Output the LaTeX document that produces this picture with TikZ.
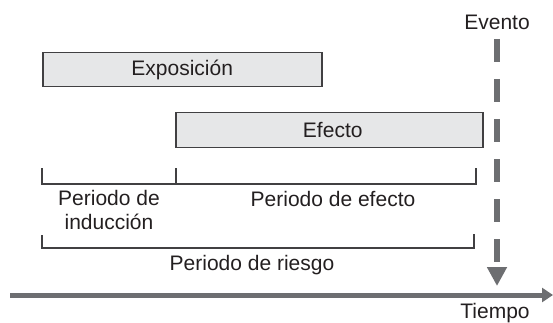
\documentclass[tikz,border=0pt]{standalone}
\usepackage{fontspec}
\setmainfont{Liberation Sans}
\usetikzlibrary{arrows.meta}
\definecolor{boxfill}{HTML}{E6E7E8}
\definecolor{boxline}{HTML}{414042}
\definecolor{txt}{HTML}{231F20}
\definecolor{axisgray}{HTML}{6D6E71}
\tikzset{
  bar/.style={draw=boxline, line width=1.5pt, fill=boxfill, inner sep=0pt, anchor=north west, text=txt},
  lbl/.style={text=txt, inner sep=0pt, align=center},
  brk/.style={draw=boxline, line width=1.3pt},
  eventline/.style={draw=axisgray, line width=6pt, dash pattern=on 23pt off 17pt, -{Triangle[length=19pt,width=19pt]}},
  axisline/.style={draw=axisgray, line width=5pt, -{Triangle[length=11pt,width=14pt]}},
}
\begin{document}
\begin{tikzpicture}[x=1pt, y=-1pt, font=\fontsize{21}{24}\selectfont]
\useasboundingbox (0,0) rectangle (553,323);
% bars
\node[bar, minimum width=279pt, minimum height=34pt] (expo) at (42,52) {Exposición};
\node[bar, minimum width=307pt, minimum height=35pt, text width=307pt, align=center] (efec) at (175,112) {\hspace*{7pt}Efecto};
% event
\node[lbl] (evento) at (497,22) {Evento};
\coordinate (evtop) at (497,39);
\coordinate (evbot) at (497,286);
\draw[eventline] (evtop) -- (evbot);
% brackets
\coordinate (b1a) at (42,168);
\coordinate (b1b) at (42,184);
\coordinate (b1m) at (176,168);
\coordinate (b1n) at (176,184);
\coordinate (b1c) at (476,184);
\coordinate (b1d) at (476,168);
\draw[brk] (b1a) -- (b1b) -- (b1c) -- (b1d);
\draw[brk] (b1m) -- (b1n);
\coordinate (b2a) at (42,235);
\coordinate (b2b) at (42,248);
\coordinate (b2c) at (474,248);
\coordinate (b2d) at (474,234);
\draw[brk] (b2a) -- (b2b) -- (b2c) -- (b2d);
\node[lbl] (induc) at (109,210) {Periodo de\\inducción};
\node[lbl] (pefec) at (333,199) {Periodo de efecto};
\node[lbl] (pries) at (252,265) {Periodo de riesgo};
% time axis
\coordinate (axs) at (10,295);
\coordinate (axe) at (553,295);
\draw[axisline] (axs) -- (axe);
\node[lbl] (tiempo) at (495,313) {Tiempo};
\end{tikzpicture}
\end{document}
